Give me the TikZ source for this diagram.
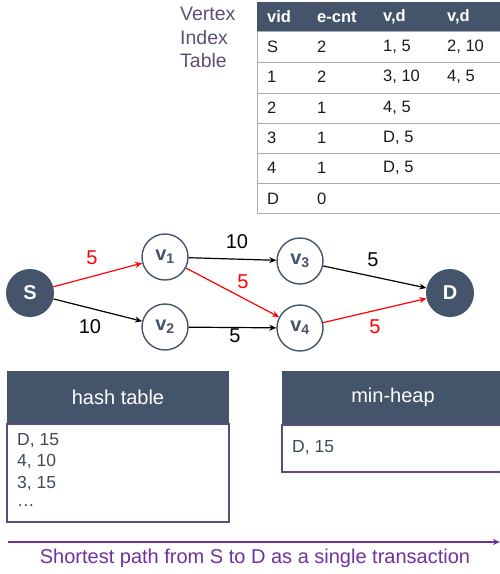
\documentclass[tikz,border=0pt]{standalone}
\usepackage{fontspec}
\setmainfont{Liberation Sans}
\usetikzlibrary{arrows.meta}
\definecolor{hdr}{HTML}{44546A}
\definecolor{boxline}{HTML}{604A7B}
\definecolor{gridline}{HTML}{A6ADB5}
\definecolor{vtitle}{HTML}{5F4F73}
\definecolor{arrowpurple}{HTML}{7030A0}
\definecolor{edgered}{HTML}{FF0000}
\definecolor{celltext}{HTML}{1A1A1A}
\definecolor{boxtext}{HTML}{3F4A58}
\newcommand{\fs}[1]{\fontsize{#1}{#1}\selectfont}
\begin{document}
\begin{tikzpicture}[x=1pt,y=-1pt,
  cell/.style={anchor=west,inner sep=0pt,text=celltext,font=\fs{16.5}},
  hcell/.style={anchor=west,inner sep=0pt,text=white,font=\fs{16.5}\bfseries},
  vtx/.style={circle,draw=hdr,line width=1.4pt,fill=white,minimum size=46pt,inner sep=0pt,text=hdr,font=\fs{20}\bfseries},
  term/.style={circle,fill=hdr,minimum size=48pt,inner sep=0pt,text=white,font=\fs{20}\bfseries},
  edge/.style={line width=1.2pt,-{Stealth[length=7pt,width=6pt]}},
  elab/.style={inner sep=0pt,font=\fs{20}},
  boxtxt/.style={anchor=west,inner sep=0pt,text=boxtext,font=\fs{17.5}},
  boxhead/.style={inner sep=0pt,text=white,font=\fs{20}}
]
\useasboundingbox (0,0) rectangle (500,574);

% ---------- Vertex Index Table ----------
\node[anchor=north west,inner sep=0pt,align=left,text=vtitle,font=\fontsize{19.5}{23.5}\selectfont] (vtitle) at (180,7) {Vertex\\Index\\Table};

\fill[hdr] (257,2) rectangle (502,31);
\draw[gridline,line width=1pt] (257,31) -- (257,213);
\foreach \yy in {31,62,93,123,153,183,213}{
  \draw[gridline,line width=1pt] (257,\yy) -- (502,\yy);
}
\node[hcell] (h1) at (267,17) {vid};
\node[hcell] (h2) at (317,17) {e-cnt};
\node[hcell] (h3) at (383,17) {v,d};
\node[hcell] (h4) at (447,17) {v,d};

\node[cell] (rS1) at (267,47) {S};
\node[cell] (rS2) at (317,47) {2};
\node[cell] (rS3) at (383,47) {1, 5};
\node[cell] (rS4) at (447,47) {2, 10};

\node[cell] (r11) at (267,77) {1};
\node[cell] (r12) at (317,77) {2};
\node[cell] (r13) at (383,77) {3, 10};
\node[cell] (r14) at (447,77) {4, 5};

\node[cell] (r21) at (267,108) {2};
\node[cell] (r22) at (317,108) {1};
\node[cell] (r23) at (383,108) {4, 5};

\node[cell] (r31) at (267,138) {3};
\node[cell] (r32) at (317,138) {1};
\node[cell] (r33) at (383,138) {D, 5};

\node[cell] (r41) at (267,168) {4};
\node[cell] (r42) at (317,168) {1};
\node[cell] (r43) at (383,168) {D, 5};

\node[cell] (rD1) at (267,199) {D};
\node[cell] (rD2) at (317,199) {0};

% ---------- Graph ----------
\node[term] (S) at (30,293) {S};
\node[vtx] (v1) at (165,257) {v\textsubscript{1}};
\node[vtx] (v2) at (165,327) {v\textsubscript{2}};
\node[vtx] (v3) at (300,261) {v\textsubscript{3}};
\node[vtx] (v4) at (300,328) {v\textsubscript{4}};
\node[term] (D) at (450,293) {D};

\draw[edge,edgered] (S) -- (v1);
\draw[edge,black] (S) -- (v2);
\draw[edge,black] (v1) -- (v3);
\draw[edge,edgered] (v1) -- (v4);
\draw[edge,black] (v2) -- (v4);
\draw[edge,black] (v3) -- (D);
\draw[edge,edgered] (v4) -- (D);

\node[elab,text=edgered] (l1) at (92,258) {5};
\node[elab] (l2) at (90,327) {10};
\node[elab] (l3) at (237,242) {10};
\node[elab,text=edgered] (l4) at (243,282) {5};
\node[elab] (l5) at (235,336) {5};
\node[elab] (l6) at (373,260) {5};
\node[elab,text=edgered] (l7) at (375,327) {5};

% ---------- hash table ----------
\draw[boxline,line width=1.3pt,fill=white] (7,424) rectangle (229,522);
\fill[hdr] (7,371) rectangle (229,424);
\draw[boxline,line width=1.3pt] (7,424) -- (229,424);
\node[boxhead] (hth) at (118,397) {hash table};
\node[boxtxt] (ht1) at (17,441) {D, 15};
\node[boxtxt] (ht2) at (17,462) {4, 10};
\node[boxtxt] (ht3) at (17,484) {3, 15};
\node[boxtxt] (ht4) at (17,506) {\dots};

% ---------- min-heap ----------
\draw[boxline,line width=1.3pt,fill=white] (282,425) rectangle (503,472);
\fill[hdr] (282,371) rectangle (503,425);
\draw[boxline,line width=1.3pt] (282,425) -- (503,425);
\node[boxhead] (mhh) at (393,397) {min-heap};
\node[boxtxt] (mh1) at (292,448) {D, 15};

% ---------- bottom arrow ----------
\coordinate (a0) at (8,542);
\coordinate (a1) at (500,542);
\draw[arrowpurple,line width=1.3pt,-{Stealth[length=7pt,width=6pt]}] (a0) -- (a1);
\node[inner sep=0pt,text=arrowpurple,font=\fs{20}] (cap) at (255,558) {Shortest path from S to D as a single transaction};
\end{tikzpicture}
\end{document}
